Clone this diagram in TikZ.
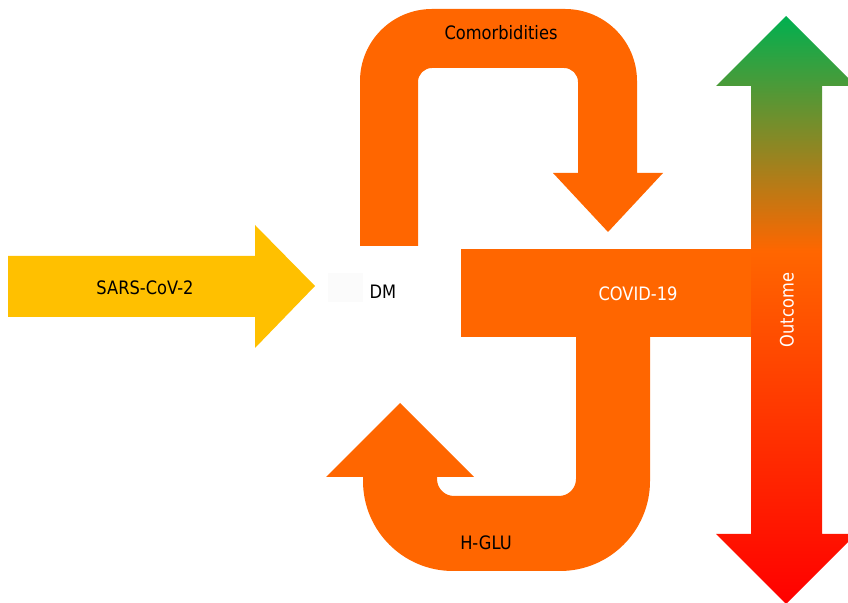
\documentclass[tikz,border=0pt]{standalone}
\usepackage{fontspec}
\setmainfont{DejaVu Sans}[FakeStretch=0.88]
\usetikzlibrary{positioning}
\definecolor{flow}{HTML}{FF6600}
\definecolor{virus}{HTML}{FFC000}
\definecolor{good}{HTML}{00B050}
\definecolor{bad}{HTML}{FF0000}
\pgfdeclareverticalshading{outcomeshade}{100bp}{color(0bp)=(bad); color(25bp)=(bad); color(55bp)=(flow); color(75bp)=(good); color(100bp)=(good)}
\tikzset{lbl/.style={font=\fontsize{18.5}{22}\selectfont, inner sep=0pt}}
\tikzset{band/.style={fill=flow, draw=none}}

\begin{document}
\begin{tikzpicture}[x=1pt, y=1pt]
        \useasboundingbox (0,0) rectangle (848,602);
        \fill[virus] (8,285) -- (255,285) -- (255,254) -- (315,316) -- (255,377) -- (255,346) -- (8,346) -- cycle;
        \fill[band] (360,356) -- (360,521) arc[start angle=180, end angle=90, radius=72pt]
            -- (565,593) arc[start angle=90, end angle=0, radius=72pt]
            -- (637,429) -- (663,429) -- (608,370) -- (553,429) -- (578,429)
            -- (578,520) arc[start angle=0, end angle=90, radius=14pt]
            -- (432,534) arc[start angle=90, end angle=180, radius=14pt]
            -- (418,356) -- cycle;
        \fill[band] (461,265) rectangle (786,353);
        \fill[band] (576,282) -- (650,282) -- (650,121) arc[start angle=0, end angle=-90, radius=90pt]
            -- (453,31) arc[start angle=-90, end angle=-180, radius=90pt]
            -- (363,125) -- (326,125) -- (400,199) -- (474,125) -- (437,125)
            -- (437,123) arc[start angle=180, end angle=270, radius=17pt]
            -- (559,106) arc[start angle=270, end angle=360, radius=17pt]
            -- cycle;
        \shade[shading=outcomeshade] (751,68) -- (751,516) -- (716,516) -- (786,586) -- (856,516) -- (822,516)
            -- (822,68) -- (856,68) -- (786,-2) -- (716,68) -- cycle;
        \node[fill=black!1.5, minimum width=35pt, minimum height=29pt, inner sep=0pt] (dmbox) at (345.5,314.5) {};
        \node[lbl] (sars) at (145,314) {SARS-CoV-2};
        \node[lbl] (dm) at (383,310) {DM};
        \node[lbl] (comorb) at (501,569) {Comorbidities};
        \node[lbl, white] (covid) at (638,308) {COVID-19};
        \node[lbl] (hglu) at (486,59) {H-GLU};
        \node[lbl, white, rotate=90] (outcome) at (787,292) {Outcome};
\end{tikzpicture}
\end{document}
